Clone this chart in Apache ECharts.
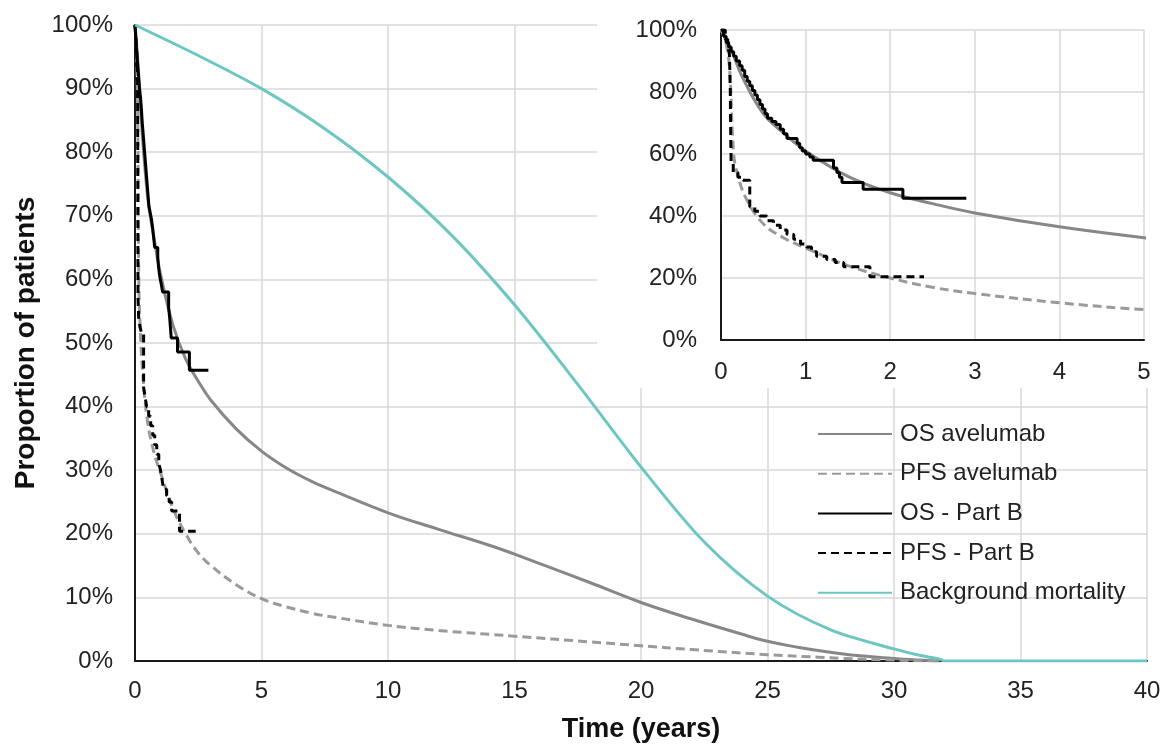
<!DOCTYPE html>
<html>
<head>
<meta charset="utf-8">
<script src="https://cdn.jsdelivr.net/npm/echarts@6/dist/echarts.min.js"></script>
<style>
  html, body { margin: 0; padding: 0; background: #fff; }
  #chart { width: 1171px; height: 745px; }
</style>
</head>
<body>
<div id="chart"></div>
<script>
// fitted curves (years, %)
var osAveTime = [0, 0.1, 0.25, 0.5, 0.75, 1, 1.5, 2, 2.5, 3, 4, 5, 6, 7, 8, 10, 12, 14, 15, 16, 18, 20, 22, 24, 25, 26, 28, 30, 31, 31.8];
var osAveVal  = [100, 95, 85, 73, 66.5, 61, 52.8, 47.5, 44, 41, 36.5, 33, 30.3, 28.2, 26.5, 23.3, 20.7, 18.2, 16.8, 15.3, 12.3, 9.2, 6.6, 4.2, 3.1, 2.3, 1.1, 0.4, 0.15, 0];

var pfsAveTime = [0, 0.05, 0.1, 0.15, 0.2, 0.3, 0.5, 0.75, 1, 1.5, 2, 2.5, 3, 4, 5, 6, 7, 8, 10, 12, 15, 18, 20, 22, 25, 27, 28, 30, 31, 31.8];
var pfsAveVal  = [100, 97, 88, 60, 53, 45.5, 37.5, 32.8, 29.7, 24, 20, 17, 15, 12, 9.8, 8.5, 7.5, 6.8, 5.6, 4.8, 3.9, 3.0, 2.4, 1.8, 1.0, 0.6, 0.4, 0.15, 0.05, 0];

// Kaplan-Meier, Part B
var osBTime = [0, 0.03, 0.06, 0.09, 0.12, 0.15, 0.18, 0.22, 0.25, 0.28, 0.31, 0.34, 0.37, 0.40, 0.43, 0.46, 0.49, 0.52, 0.55, 0.60, 0.65, 0.70, 0.74, 0.78, 0.90, 0.93, 0.96, 1.0, 1.05, 1.09, 1.33, 1.37, 1.40, 1.43, 1.68, 2.15, 2.90];
var osBVal  = [100, 98, 96, 94.5, 93, 91.5, 90, 88.5, 87, 85, 83.5, 82, 80.5, 79, 77.5, 76, 74.5, 73, 71.5, 70.5, 69.5, 68, 66.5, 65, 63.5, 62, 61, 60, 59, 58, 55.5, 54, 52.5, 50.8, 48.6, 45.7, 45.7];

var pfsBTime = [0, 0.05, 0.08, 0.10, 0.11, 0.115, 0.12, 0.145, 0.20, 0.26, 0.34, 0.40, 0.46, 0.54, 0.62, 0.70, 0.78, 0.86, 0.94, 1.01, 1.07, 1.13, 1.25, 1.35, 1.45, 1.76, 2.40];
var pfsBVal  = [100, 97, 95, 92, 80, 65, 57, 54, 52.5, 51.5, 43, 41.5, 40, 38.5, 37, 35.5, 34, 32.5, 31, 30, 28.5, 27, 26, 25, 23.6, 20.4, 20.4];

var bgTime = [0, 2.5, 5, 7.5, 10, 12.5, 15, 17.5, 20, 22.5, 25, 27.5, 30, 31, 31.8, 32, 40];
var bgVal  = [100, 95.2, 90, 83.7, 76.1, 67, 56, 43.5, 30.5, 18.7, 10.2, 4.9, 1.9, 0.9, 0.3, 0, 0];

var names = ['OS avelumab', 'PFS avelumab', 'OS - Part B', 'PFS - Part B', 'Background mortality'];

function pairs(t, v) {
    var out = [];
    for (var i = 0; i < t.length; i++) out.push([t[i], v[i]]);
    return out;
}

var font = 'Liberation Sans, Arial, sans-serif';
var gridColor = '#d9d9d9';

function valueAxis(opts) {
    var a = {
        type: 'value',
        axisLine: { show: true, lineStyle: { color: '#1a1a1a', width: 2 } },
        axisTick: { show: false },
        splitLine: { show: true, lineStyle: { color: gridColor, width: 1.5 } },
        axisLabel: { color: '#222', fontSize: 24, fontFamily: font }
    };
    for (var k in opts) a[k] = opts[k];
    return a;
}

var styles = [
    { color: '#878787', width: 3, type: 'solid' },
    { color: '#9a9a9a', width: 3, type: [9, 5] },
    { color: '#000', width: 3, type: 'solid' },
    { color: '#000', width: 3, type: [8, 5] },
    { color: '#6cc6c1', width: 3, type: 'solid' }
];

function lineSeries(idx, t, v, axisIdx, z, smooth) {
    return {
        name: names[idx],
        type: 'line',
        xAxisIndex: axisIdx,
        yAxisIndex: axisIdx,
        data: pairs(t, v),
        symbol: 'none',
        showSymbol: false,
        smooth: smooth || false,
        step: smooth ? false : 'end',   // KM curves drawn as steps
        z: z,
        color: styles[idx].color,
        lineStyle: styles[idx],
        animation: false
    };
}

var chart = echarts.init(document.getElementById('chart'));
chart.setOption({
    backgroundColor: '#fff',
    textStyle: { fontFamily: font },
    grid: [
        { left: 135, right: 24, top: 25, bottom: 84, outerBoundsMode: 'none' },
        { left: 721, right: 27, top: 30, bottom: 405, outerBoundsMode: 'none' }
    ],
    graphic: {
        z: 3,
        elements: [{
            type: 'rect', z: 3,
            shape: { x: 597, y: 0, width: 574, height: 388 },
            style: { fill: '#fff' }
        }]
    },
    xAxis: [
        valueAxis({
            gridIndex: 0, min: 0, max: 40, interval: 5,
            name: 'Time (years)', nameLocation: 'middle', nameGap: 55,
            nameTextStyle: { fontSize: 27, fontWeight: 'bold', color: '#111', fontFamily: font },
            axisLabel: { color: '#222', fontSize: 24, fontFamily: font, margin: 18 }
        }),
        valueAxis({
            gridIndex: 1, min: 0, max: 5, interval: 1, z: 4,
            axisLabel: { color: '#222', fontSize: 24, fontFamily: font, margin: 20 }
        })
    ],
    yAxis: [
        valueAxis({
            gridIndex: 0, min: 0, max: 100, interval: 10,
            name: 'Proportion of patients', nameLocation: 'middle', nameGap: 93,
            nameTextStyle: { fontSize: 28, fontWeight: 'bold', color: '#111', fontFamily: font },
            axisLabel: { color: '#222', fontSize: 24, fontFamily: font, margin: 22, formatter: '{value}%' }
        }),
        valueAxis({
            gridIndex: 1, min: 0, max: 100, interval: 20, z: 4,
            axisLabel: { color: '#222', fontSize: 24, fontFamily: font, margin: 24, formatter: '{value}%' }
        })
    ],
    legend: {
        data: names,
        orient: 'vertical',
        left: 812,
        top: 417,
        itemWidth: 74,
        itemHeight: 14,
        itemGap: 15.7,
        itemStyle: { opacity: 0 },
        textStyle: { fontSize: 24, color: '#222', fontFamily: font, padding: [0, 0, 0, 3] }
    },
    series: [
        lineSeries(0, osAveTime, osAveVal, 0, 2, 0.4),
        lineSeries(1, pfsAveTime, pfsAveVal, 0, 2, 0.4),
        lineSeries(2, osBTime, osBVal, 0, 2),
        lineSeries(3, pfsBTime, pfsBVal, 0, 2),
        lineSeries(4, bgTime, bgVal, 0, 2, 0.3),
        lineSeries(0, osAveTime, osAveVal, 1, 5, 0.4),
        lineSeries(1, pfsAveTime, pfsAveVal, 1, 5, 0.4),
        lineSeries(2, osBTime, osBVal, 1, 5),
        lineSeries(3, pfsBTime, pfsBVal, 1, 5)
    ]
});
</script>
</body>
</html>
